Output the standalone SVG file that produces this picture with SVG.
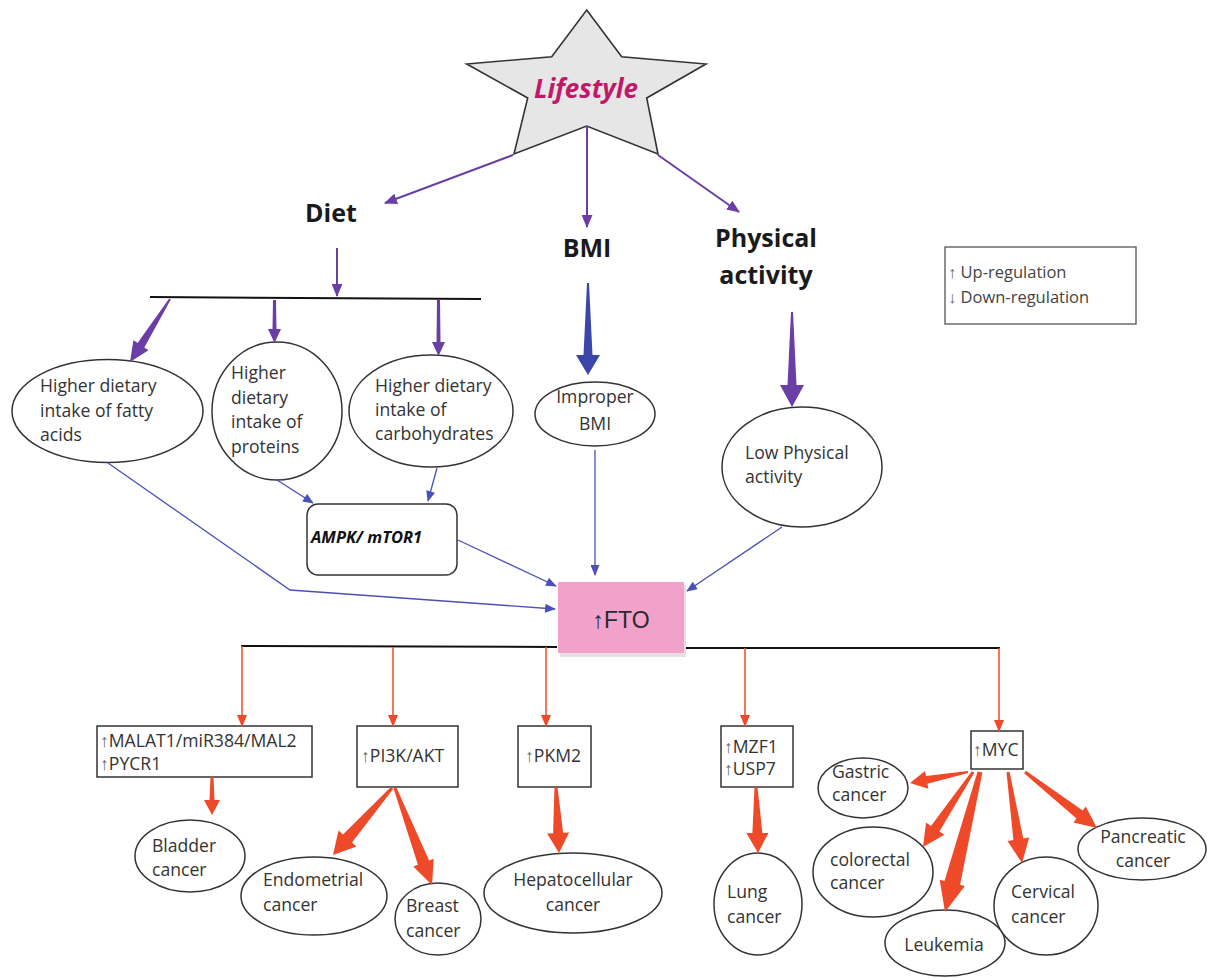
<svg xmlns="http://www.w3.org/2000/svg" width="1208" height="978" viewBox="0 0 1208 978">
<style>
.t{font-family:"Open Sans","DejaVu Sans",sans-serif;font-size:17.6px;fill:#333}
.u{font-family:"Liberation Sans","DejaVu Sans",sans-serif;fill:#666}
.h{font-family:"Open Sans","DejaVu Sans",sans-serif;font-size:25px;font-weight:bold;fill:#1a1a1a}
.e{fill:#fff;stroke:#333;stroke-width:1.5}
.b{fill:#fff;stroke:#333;stroke-width:1.5}
.pl{stroke:#6a3ea6;stroke-width:2;fill:none}
.bl{stroke:#4a50b8;stroke-width:1.3;fill:none}
.rl{stroke:#ee5534;stroke-width:1.6;fill:none}
.pf{fill:#6a3ea6}
.bf{fill:#3b47a8}
.rf{fill:#ee4a2a}
.k{stroke:#111;stroke-width:2;fill:none}
</style>
<defs>
<marker id="mp" viewBox="0 0 12 10" refX="11" refY="5" markerWidth="13" markerHeight="11" orient="auto" markerUnits="userSpaceOnUse"><path d="M0,0 L12,5 L0,10 z" fill="#6a3ea6"/></marker>
<marker id="mb" viewBox="0 0 12 10" refX="11" refY="5" markerWidth="12" markerHeight="9" orient="auto" markerUnits="userSpaceOnUse"><path d="M0,0 L12,5 L0,10 z" fill="#4a50b8"/></marker>
<marker id="mr" viewBox="0 0 12 10" refX="11" refY="5" markerWidth="13" markerHeight="10" orient="auto" markerUnits="userSpaceOnUse"><path d="M0,0 L12,5 L0,10 z" fill="#ee4a2a"/></marker>
</defs>

<g id="lifestyle">
<polygon points="586.7,10 621.7,56.7 706,64 646.7,98 658,154 586.7,126 514,154 527.7,98 466.7,64 551.7,56.7" fill="#e6e6e6" stroke="#333" stroke-width="1.6"/>
<text x="586" y="98" text-anchor="middle" style="font-family:'Open Sans','DejaVu Sans',sans-serif;font-size:26px;font-weight:bold;font-style:italic;fill:#c2186a">Lifestyle</text>
</g>

<g id="diet"><text class="h" x="331" y="222" text-anchor="middle">Diet</text></g>
<g id="bmi"><text class="h" x="587" y="257" text-anchor="middle">BMI</text></g>
<g id="physical"><text class="h" x="766" y="247" text-anchor="middle">Physical</text><text class="h" x="766" y="284" text-anchor="middle">activity</text></g>

<g id="legend">
<rect x="945" y="247" width="191" height="77" fill="#fff" stroke="#555" stroke-width="1.3"/>
<text class="t" x="948" y="278" style="font-size:16.5px;fill:#444"><tspan class="u">↑</tspan> Up-regulation</text>
<text class="t" x="948" y="303" style="font-size:16.5px;fill:#444"><tspan class="u">↓</tspan> Down-regulation</text>
</g>

<g id="fatty"><ellipse class="e" cx="107.5" cy="411" rx="95.5" ry="51.5"/>
<text class="t" x="40" y="392">Higher dietary</text><text class="t" x="40" y="417">intake of fatty</text><text class="t" x="40" y="441">acids</text></g>
<g id="proteins"><ellipse class="e" cx="277" cy="411" rx="65" ry="69"/>
<text class="t" x="231" y="379">Higher</text><text class="t" x="231" y="404">dietary</text><text class="t" x="231" y="428">intake of</text><text class="t" x="231" y="453">proteins</text></g>
<g id="carbs"><ellipse class="e" cx="431" cy="411" rx="82" ry="56"/>
<text class="t" x="375" y="392">Higher dietary</text><text class="t" x="375" y="416">intake of</text><text class="t" x="375" y="440">carbohydrates</text></g>
<g id="improper"><ellipse class="e" cx="595" cy="414" rx="60" ry="32"/>
<text class="t" x="595" y="403" text-anchor="middle">Improper</text><text class="t" x="595" y="430" text-anchor="middle">BMI</text></g>
<g id="lowpa"><ellipse class="e" cx="802" cy="467" rx="80" ry="60"/>
<text class="t" x="745" y="459">Low Physical</text><text class="t" x="745" y="483">activity</text></g>
<g id="ampk"><rect x="307" y="504" width="150" height="71" rx="11" class="b"/>
<text x="311" y="543" style="font-family:'Open Sans','DejaVu Sans',sans-serif;font-size:16.5px;font-weight:bold;font-style:italic;fill:#111">AMPK/ mTOR1</text></g>
<g id="fto">
<rect x="560" y="585" width="126" height="72" fill="#d9c9d2" opacity="0.6"/>
<rect x="558" y="582" width="126" height="71" fill="#f2a1cb"/>
<text x="621" y="628" text-anchor="middle" style="font-family:'Liberation Sans',Arial,sans-serif;font-size:23px;fill:#2a2a2a">↑FTO</text>
</g>

<g id="malat"><rect x="97" y="726" width="215" height="51" class="b"/>
<text class="t" x="100" y="747"><tspan class="u">↑</tspan>MALAT1/miR384/MAL2</text><text class="t" x="100" y="770"><tspan class="u">↑</tspan>PYCR1</text></g>
<g id="pi3k"><rect x="357" y="726" width="101" height="61" class="b"/><text class="t" x="361" y="762"><tspan class="u">↑</tspan>PI3K/AKT</text></g>
<g id="pkm2"><rect x="518" y="726" width="73" height="61" class="b"/><text class="t" x="525" y="762"><tspan class="u">↑</tspan>PKM2</text></g>
<g id="mzf1"><rect x="721" y="726" width="72" height="61" class="b"/><text class="t" x="724" y="753"><tspan class="u">↑</tspan>MZF1</text><text class="t" x="724" y="775"><tspan class="u">↑</tspan>USP7</text></g>
<g id="myc"><rect x="971" y="731" width="52" height="38" class="b"/><text class="t" x="973" y="756"><tspan class="u">↑</tspan>MYC</text></g>

<g id="bladder"><ellipse class="e" cx="190" cy="856" rx="55" ry="36"/><text class="t" x="152" y="852">Bladder</text><text class="t" x="152" y="876">cancer</text></g>
<g id="endometrial"><ellipse class="e" cx="314" cy="896" rx="73" ry="39"/><text class="t" x="263" y="886">Endometrial</text><text class="t" x="263" y="911">cancer</text></g>
<g id="breast"><ellipse class="e" cx="438" cy="919" rx="43" ry="36"/><text class="t" x="406" y="912">Breast</text><text class="t" x="406" y="937">cancer</text></g>
<g id="hepato"><ellipse class="e" cx="573" cy="893" rx="89" ry="40"/><text class="t" x="573" y="886" text-anchor="middle">Hepatocellular</text><text class="t" x="573" y="911" text-anchor="middle">cancer</text></g>
<g id="lung"><ellipse class="e" cx="758" cy="904" rx="44" ry="51"/><text class="t" x="727" y="898">Lung</text><text class="t" x="727" y="923">cancer</text></g>
<g id="gastric"><ellipse class="e" cx="863" cy="788" rx="45" ry="30"/><text class="t" x="832" y="778">Gastric</text><text class="t" x="832" y="801">cancer</text></g>
<g id="colorectal"><ellipse class="e" cx="873" cy="872" rx="60" ry="45"/><text class="t" x="830" y="866">colorectal</text><text class="t" x="830" y="889">cancer</text></g>
<g id="leukemia"><ellipse class="e" cx="945" cy="943" rx="60" ry="33"/><text class="t" x="944" y="951" text-anchor="middle">Leukemia</text></g>
<g id="cervical"><ellipse class="e" cx="1046" cy="906" rx="52" ry="49"/><text class="t" x="1011" y="898">Cervical</text><text class="t" x="1011" y="923">cancer</text></g>
<g id="pancreatic"><ellipse class="e" cx="1142" cy="849" rx="64" ry="31"/><text class="t" x="1143" y="843" text-anchor="middle">Pancreatic</text><text class="t" x="1143" y="867" text-anchor="middle">cancer</text></g>

<g id="connectors">
<line class="pl" x1="513" y1="155" x2="385" y2="203" marker-end="url(#mp)"/>
<line class="pl" x1="587" y1="126" x2="587" y2="227" marker-end="url(#mp)"/>
<line class="pl" x1="658" y1="155" x2="739" y2="212" marker-end="url(#mp)"/>
<line class="pl" x1="337" y1="248" x2="337" y2="296" marker-end="url(#mp)"/>
<line class="k" x1="150" y1="297" x2="481" y2="299"/>
<polygon class="pf" points="169.2,298.5 137.6,343.1 133.4,340.3 130,362 148.5,350.2 144.3,347.5 170.8,299.5"/>
<polygon class="pf" points="273,300 272.5,329 268,329 274.5,343 281,329 276.5,329 276,300"/>
<polygon class="pf" points="437,300 436.5,342 432,342 438.5,356 445,342 440.5,342 440,300"/>
<polygon class="bf" points="587,283 583.5,355 576,355 588,375 600,355 592.5,355 589,283"/>
<polygon class="pf" points="791,312 787.5,385 780,385 792,407 804,385 796.5,385 793,312"/>

<line class="bl" x1="277" y1="480" x2="313" y2="503" marker-end="url(#mb)"/>
<line class="bl" x1="437" y1="468" x2="428" y2="501" marker-end="url(#mb)"/>
<polyline class="bl" points="108,463 290,590 555,609" marker-end="url(#mb)"/>
<line class="bl" x1="458" y1="540" x2="556" y2="586" marker-end="url(#mb)"/>
<line class="bl" x1="595" y1="450" x2="595" y2="575" marker-end="url(#mb)"/>
<line class="bl" x1="782" y1="527" x2="687" y2="591" marker-end="url(#mb)"/>

<line class="k" x1="241" y1="646" x2="557" y2="647"/>
<line class="k" x1="686" y1="648" x2="1000" y2="648"/>
<line class="rl" x1="242" y1="646" x2="242" y2="726" marker-end="url(#mr)"/>
<line class="rl" x1="393" y1="647" x2="393" y2="726" marker-end="url(#mr)"/>
<line class="rl" x1="546" y1="647" x2="546" y2="726" marker-end="url(#mr)"/>
<line class="rl" x1="745" y1="648" x2="745" y2="726" marker-end="url(#mr)"/>
<line class="rl" x1="999" y1="648" x2="999" y2="731" marker-end="url(#mr)"/>

<polygon class="rf" points="210.5,777 209.5,800 204,800 212,815 220,800 214.5,800 213.5,777"/>
<polygon class="rf" points="390.9,787 343,834.5 338.5,830.6 333,855 356.5,846.4 352,842.5 393.1,789"/>
<polygon class="rf" points="393.6,788.5 417.9,864.7 413.2,866.5 432,885 433.7,858.7 429.1,860.5 396.4,787.5"/>
<polygon class="rf" points="554.5,787.1 553.1,833.2 547.1,833.5 559,853 569.1,832.5 563.1,832.8 557.5,786.9"/>
<polygon class="rf" points="754.5,787 752.4,833 746.4,833 758,853 768.4,833 762.4,833 757.5,787"/>
<polygon class="rf" points="967.8,771 926,775.9 925,771 910,783 928.4,788.7 927.4,783.7 968.2,773"/>
<polygon class="rf" points="971.8,771.2 931,825.9 926,822.6 923,847 944.4,834.8 939.4,831.5 974.3,772.8"/>
<polygon class="rf" points="977.6,771.4 944.5,881 939.7,879.8 945,912 964.9,886 960.1,884.8 982.4,772.6"/>
<polygon class="rf" points="1006.5,772.2 1013.4,840.1 1007.5,841 1022,863 1029.2,837.6 1023.3,838.5 1009.5,771.8"/>
<polygon class="rf" points="1024.1,773.2 1076.5,818.5 1073.5,822.4 1097,828 1085.7,806.6 1082.7,810.6 1025.9,770.8"/>
</g>
</svg>
